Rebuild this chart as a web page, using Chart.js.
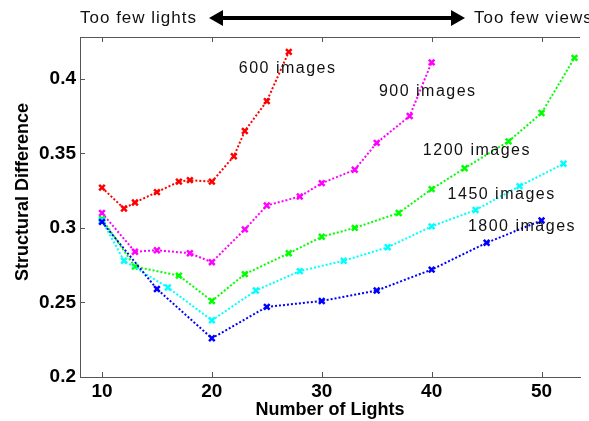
<!DOCTYPE html>
<html>
<head>
<meta charset="utf-8">
<script src="https://cdn.jsdelivr.net/npm/chart.js@4"></script>
<style>
  html, body { margin: 0; padding: 0; background: #fff; }
  #chart { display: block; }
</style>
</head>
<body>
<canvas id="chart" width="589" height="421"></canvas>
<script>
// Данные графика
const seriesNames = ['600 images', '900 images', '1200 images', '1450 images', '1800 images'];

const lights600 = [10, 12, 13, 15, 17, 18, 20, 22, 23, 25, 27];
const diff600 = [0.327, 0.313, 0.317, 0.324, 0.331, 0.332, 0.331, 0.348, 0.365, 0.385, 0.418];

const lights900 = [10, 13, 15, 18, 20, 23, 25, 28, 30, 33, 35, 38, 40];
const diff900 = [0.310, 0.284, 0.285, 0.283, 0.277, 0.299, 0.315, 0.321, 0.330, 0.339, 0.357, 0.375, 0.411];

const lights1200 = [10, 13, 17, 20, 23, 27, 30, 33, 37, 40, 43, 47, 50, 53];
const diff1200 = [0.306, 0.274, 0.268, 0.251, 0.269, 0.283, 0.294, 0.300, 0.310, 0.326, 0.340, 0.358, 0.377, 0.414];

const lights1450 = [10, 12, 16, 20, 24, 28, 32, 36, 40, 44, 48, 52];
const diff1450 = [0.305, 0.278, 0.260, 0.238, 0.258, 0.271, 0.278, 0.287, 0.301, 0.312, 0.328, 0.343];

const lights1800 = [10, 15, 20, 25, 30, 35, 40, 45, 50];
const diff1800 = [0.304, 0.259, 0.226, 0.247, 0.251, 0.258, 0.272, 0.290, 0.305];

const xTicks = [10, 20, 30, 40, 50];
const yTicks = [0.2, 0.25, 0.3, 0.35, 0.4];

// Где стоят подписи серий (в координатах данных)
const labelSpots = [
    { x: 22.45, y: 0.4065 },
    { x: 35.2, y: 0.3915 },
    { x: 39.2, y: 0.352 },
    { x: 41.45, y: 0.3225 },
    { x: 43.3, y: 0.301 }
];

const colors = ['#ff0000', '#ff00ff', '#00ff00', '#00ffff', '#0000ff'];

function toPoints(xs, ys) {
    return xs.map((x, i) => ({ x: x, y: ys[i] }));
}

function makeSeries(i, xs, ys) {
    return {
        label: seriesNames[i],
        data: toPoints(xs, ys),
        borderColor: colors[i],
        backgroundColor: colors[i],
        borderWidth: 2,
        borderDash: [2, 2],
        pointStyle: 'crossRot',
        pointRadius: 4,
        pointBorderWidth: 2.5,
        tension: 0,
        fill: false,
        order: 4 - i
    };
}

// Стрелка сверху, подписи серий, засечки внутрь
const extrasPlugin = {
    id: 'extras',
    afterDraw(chart) {
        const ctx = chart.ctx;
        const area = chart.chartArea;
        const xs = chart.scales.x;
        const ys = chart.scales.y;

        ctx.save();

        // рамка сверху + засечки
        ctx.strokeStyle = '#555';
        ctx.lineWidth = 1;
        ctx.beginPath();
        ctx.moveTo(area.left, area.top + 0.5);
        ctx.lineTo(area.right, area.top + 0.5);
        xTicks.forEach(v => {
            const px = Math.round(xs.getPixelForValue(v)) + 0.5;
            ctx.moveTo(px, area.bottom);
            ctx.lineTo(px, area.bottom - 5);
            ctx.moveTo(px, area.top);
            ctx.lineTo(px, area.top + 5);
        });
        yTicks.forEach(v => {
            const py = Math.round(ys.getPixelForValue(v)) + 0.5;
            ctx.moveTo(area.left, py);
            ctx.lineTo(area.left + 5, py);
        });
        ctx.stroke();

        // подписи серий
        ctx.fillStyle = '#111';
        ctx.font = '16px "Liberation Sans", Arial, sans-serif';
        ctx.letterSpacing = '1.5px';
        ctx.textAlign = 'left';
        ctx.textBaseline = 'middle';
        labelSpots.forEach((p, i) => {
            ctx.fillText(seriesNames[i], xs.getPixelForValue(p.x), ys.getPixelForValue(p.y));
        });

        // верхняя подпись со стрелкой
        ctx.font = '17px "Liberation Sans", Arial, sans-serif';
        ctx.letterSpacing = '1px';
        ctx.fillText('Too few lights', 80, 18);
        ctx.fillText('Too few views', 474, 18);

        const ay = 18, x1 = 209, x2 = 465, head = 14, half = 8;
        ctx.fillStyle = '#000';
        ctx.fillRect(x1 + head - 1, ay - 2, (x2 - x1) - 2 * head + 2, 4);
        ctx.beginPath();
        ctx.moveTo(x1, ay);
        ctx.lineTo(x1 + head, ay - half);
        ctx.lineTo(x1 + head, ay + half);
        ctx.closePath();
        ctx.fill();
        ctx.beginPath();
        ctx.moveTo(x2, ay);
        ctx.lineTo(x2 - head, ay - half);
        ctx.lineTo(x2 - head, ay + half);
        ctx.closePath();
        ctx.fill();

        // подпись оси Y
        ctx.letterSpacing = '0px';
        ctx.translate(23, 192);
        ctx.rotate(-Math.PI / 2);
        ctx.textAlign = 'center';
        ctx.font = 'bold 18px "Liberation Sans", Arial, sans-serif';
        ctx.fillText('Structural Difference', 0, 0);

        ctx.restore();
    }
};

const chart = new Chart(document.getElementById('chart'), {
    type: 'line',
    data: {
        datasets: [
            makeSeries(0, lights600, diff600),
            makeSeries(1, lights900, diff900),
            makeSeries(2, lights1200, diff1200),
            makeSeries(3, lights1450, diff1450),
            makeSeries(4, lights1800, diff1800)
        ]
    },
    options: {
        responsive: false,
        animation: false,
        layout: { padding: { top: 37, right: 9, left: 0, bottom: 0 } },
        plugins: {
            legend: { display: false },
            tooltip: { enabled: false }
        },
        scales: {
            x: {
                type: 'linear',
                min: 8,
                max: 53.5,
                afterBuildTicks: s => { s.ticks = xTicks.map(v => ({ value: v })); },
                afterFit: s => { s.height = 44; },
                grid: { display: true, drawOnChartArea: false, drawTicks: false },
                border: { display: true, color: '#555' },
                ticks: {
                    color: '#000',
                    padding: 3,
                    maxRotation: 0,
                    font: { family: '"Liberation Sans", Arial, sans-serif', size: 19, weight: 'bold' }
                },
                title: {
                    display: true,
                    text: 'Number of Lights',
                    color: '#000',
                    padding: { top: 0, bottom: 0 },
                    font: { family: '"Liberation Sans", Arial, sans-serif', size: 18, weight: 'bold' }
                }
            },
            y: {
                min: 0.2,
                max: 0.428,
                afterBuildTicks: s => { s.ticks = yTicks.map(v => ({ value: v })); },
                afterFit: s => { s.width = 80; },
                grid: { display: true, drawOnChartArea: false, drawTicks: false },
                border: { display: true, color: '#555' },
                ticks: {
                    color: '#000',
                    padding: 4,
                    callback: v => String(+v.toFixed(2)),
                    font: { family: '"Liberation Sans", Arial, sans-serif', size: 19, weight: 'bold' }
                }
            }
        }
    },
    plugins: [extrasPlugin]
});
</script>
</body>
</html>
